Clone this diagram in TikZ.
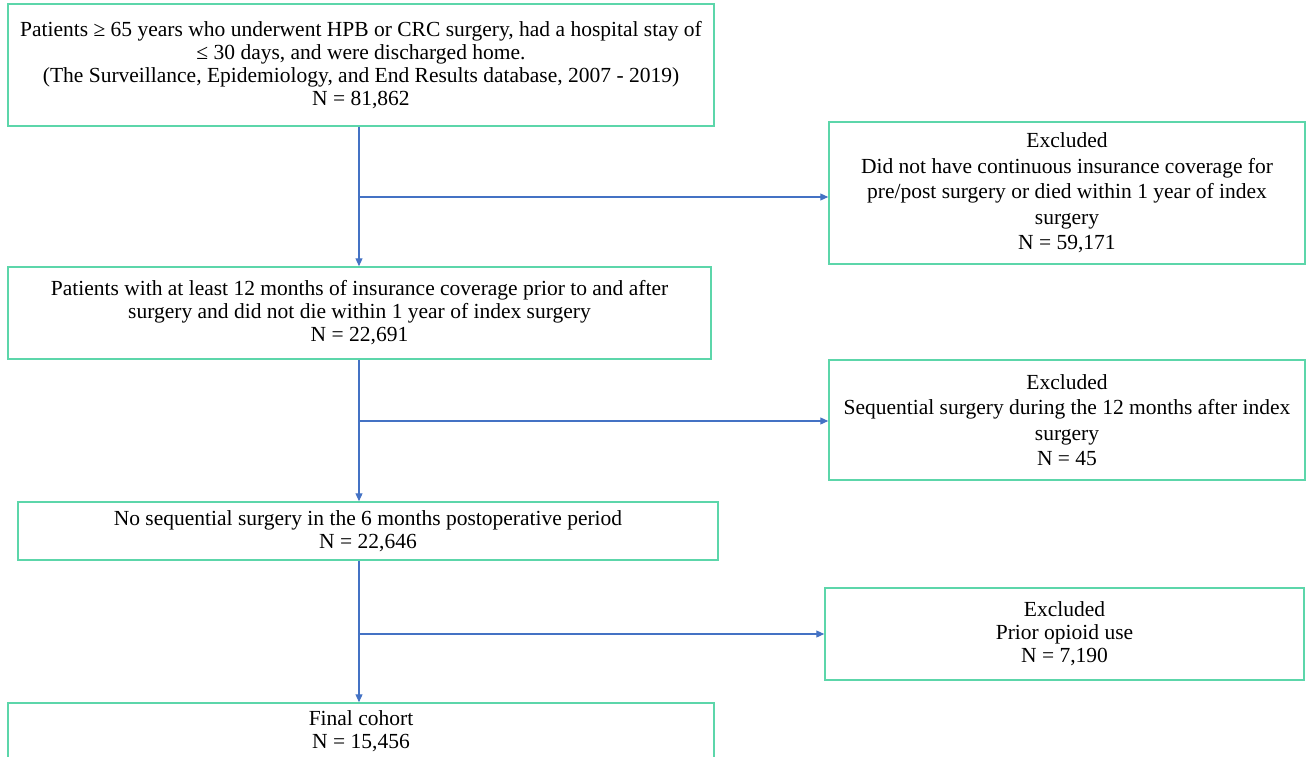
\documentclass[tikz,border=0pt]{standalone}
\usepackage{fontspec}
\setmainfont{Liberation Serif}
\usetikzlibrary{arrows.meta}
\definecolor{boxgreen}{HTML}{5CD6AA}
\definecolor{arrblue}{HTML}{4472C4}
\begin{document}
\begin{tikzpicture}[x=1pt,y=-1pt,
 box/.style={draw=boxgreen, line width=1.5pt, inner sep=0pt, align=center, font=\fontsize{21.5}{23}\selectfont},
 exbox/.style={box, font=\fontsize{21.5}{25.5}\selectfont},
 arr/.style={draw=arrblue, line width=1.2pt, -{Triangle[length=8pt,width=7pt]}}]
\useasboundingbox (0,0) rectangle (1307,757);
\clip (0,0) rectangle (1307,757);
\node[box, minimum width=706pt, minimum height=122pt] (A) at (361,65)
 {Patients ≥ 65 years who underwent HPB or CRC surgery, had a hospital stay of\\
  ≤ 30 days, and were discharged home.\\
  (The Surveillance, Epidemiology, and End Results database, 2007 - 2019)\\
  N = 81,862};
\node[exbox, minimum width=476pt, minimum height=142pt] (E1) at (1067,193)
 {Excluded\\
  Did not have continuous insurance coverage for\\
  pre/post surgery or died within 1 year of index\\
  surgery\\
  N = 59,171};
\node[box, minimum width=703pt, minimum height=92pt] (B) at (359.5,313)
 {Patients with at least 12 months of insurance coverage prior to and after\\
  surgery and did not die within 1 year of index surgery\\
  N = 22,691};
\node[exbox, minimum width=476pt, minimum height=120pt] (E2) at (1067,420)
 {Excluded\\
  Sequential surgery during the 12 months after index\\
  surgery\\
  N = 45};
\node[box, minimum width=700pt, minimum height=58pt] (C) at (368,531)
 {No sequential surgery in the 6 months postoperative period\\
  N = 22,646};
\node[box, minimum width=479pt, minimum height=92pt] (E3) at (1064.5,634)
 {Excluded\\
  Prior opioid use\\
  N = 7,190};
\node[box, minimum width=706pt, minimum height=56pt] (D) at (361,731)
 {Final cohort\\
  N = 15,456};
\coordinate (s1) at (359,197);
\coordinate (s2) at (359,421);
\coordinate (s3) at (359,634);
\draw[arr] (A.south -| s1) -- (B.north -| s1);
\draw[arr] (s1) -- (s1 -| E1.west);
\draw[arr] (B.south -| s2) -- (C.north -| s2);
\draw[arr] (s2) -- (s2 -| E2.west);
\draw[arr] (C.south -| s3) -- (D.north -| s3);
\draw[arr] (s3) -- (s3 -| E3.west);
\end{tikzpicture}
\end{document}
